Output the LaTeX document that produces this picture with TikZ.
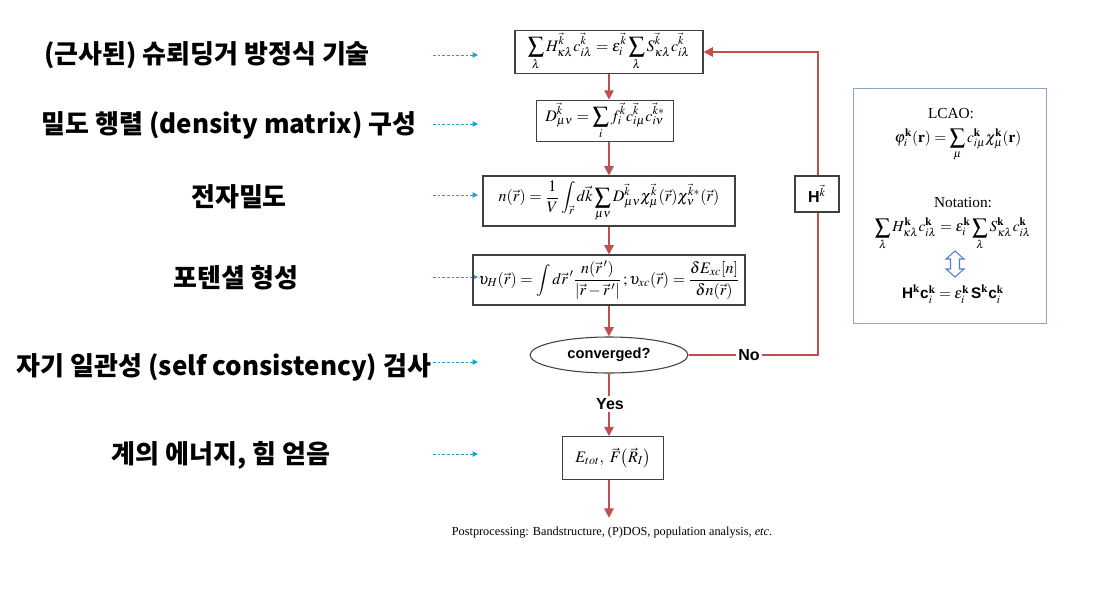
\documentclass[tikz,border=0pt]{standalone}
\usepackage{mathptmx}
\usepackage{fontspec}
\setmainfont{Liberation Serif}
\setsansfont{Liberation Sans}
\newfontfamily\kofont{Noto Sans CJK KR}
\usetikzlibrary{arrows.meta,positioning,shapes.geometric}
\definecolor{flowred}{RGB}{192,80,77}
\definecolor{hintblue}{RGB}{30,160,210}
\definecolor{framegray}{RGB}{140,165,200}
\definecolor{arrowblue}{RGB}{80,125,205}
\newcommand{\eqfont}{\fontsize{12}{14}\selectfont}
\newcommand{\kvec}{\vec{k}}
\newcommand{\rvec}{\vec{r}}
\newcommand{\bsf}[1]{\textsf{\bfseries #1}}

\begin{document}
\begin{tikzpicture}[
    x=0.75pt, y=-0.75pt,
    eqbox/.style={rectangle, draw=black!75, line width=0.8pt, inner sep=2pt, font=\eqfont},
    stagelabel/.style={font=\kofont\bfseries\fontsize{19.5}{22}\selectfont},
    answer/.style={font=\sffamily\bfseries\fontsize{12}{14}\selectfont, fill=white, inner sep=2pt},
    flow/.style={-{Triangle[length=7pt,width=7pt]}, draw=flowred, line width=1.4pt},
    hint/.style={-{Triangle[length=4pt,width=4pt]}, draw=hintblue, dash pattern=on 2pt off 1.5pt, line width=0.7pt},
    notebox/.style={font=\fontsize{11.5}{13}\selectfont, inner sep=1pt}
]
\useasboundingbox (0,0) rectangle (1096,590);

% Stage labels
\node[stagelabel] (lab1) at (207,55) {(근사된) 슈뢰딩거 방정식 기술};
\node[stagelabel] (lab2) at (229,125) {밀도 행렬 (density matrix) 구성};
\node[stagelabel] (lab3) at (239,197) {전자밀도};
\node[stagelabel] (lab4) at (236,278) {포텐셜 형성};
\node[stagelabel] (lab5) at (224,367) {자기 일관성 (self consistency) 검사};
\node[stagelabel] (lab6) at (221,455) {계의 에너지, 힘 얻음};

% Hint arrows
\foreach \y/\n in {55/1,124/2,195/3,277/4,362/5,454/6} {
    \coordinate (hs\n) at (433,\y);
    \coordinate (he\n) at (478,\y);
    \draw[hint] (hs\n) -- (he\n);
}

% Equation boxes
\node[eqbox, minimum width=141pt, minimum height=31.5pt] (schr) at (609,52)
    {$\displaystyle\sum_{\lambda} H^{\kvec}_{\kappa\lambda} c^{\kvec}_{i\lambda} = \varepsilon^{\kvec}_{i} \sum_{\lambda} S^{\kvec}_{\kappa\lambda} c^{\kvec}_{i\lambda}$};
\node[eqbox, minimum width=103pt, minimum height=25.5pt] (dens) at (605,121)
    {$\displaystyle D^{\kvec}_{\mu\nu} = \sum_{i} f^{\kvec}_{i} c^{\kvec}_{i\mu} c^{\kvec *}_{i\nu}$};
\node[eqbox, minimum width=189pt, minimum height=37.5pt] (elec) at (609,201)
    {$\displaystyle n(\rvec) = \frac{1}{V}\int_{\rvec} d\kvec \sum_{\mu\nu} D^{\kvec}_{\mu\nu}\chi^{\kvec}_{\mu}(\rvec)\chi^{\kvec *}_{\nu}(\rvec)$};
\node[eqbox, minimum width=204pt, minimum height=37.5pt] (pot) at (609,280)
    {$\displaystyle \upsilon_{H}(\rvec) = \int d\rvec\,' \frac{n(\rvec\,')}{|\rvec - \rvec\,'|}\,;\upsilon_{xc}(\rvec) = \frac{\delta E_{xc}[n]}{\delta n(\rvec)}$};
\node[ellipse, draw=black!75, line width=0.8pt, minimum width=118.5pt, minimum height=27pt,
      font=\sffamily\bfseries\fontsize{11}{13}\selectfont] (conv) at (609,355) {converged?};
\node[eqbox, minimum width=76pt, minimum height=32pt] (force) at (613,458)
    {$E_{tot},\ \vec{F}\bigl(\vec{R}_{I}\bigr)$};
\node[font=\fontsize{9.2}{11}\selectfont, inner sep=7pt] (post) at (612,533)
    {Postprocessing: Bandstructure, (P)DOS, population analysis, \textit{etc}.};

% Flow
\draw[flow] (schr.south -| conv.north) -- (dens.north -| conv.north);
\draw[flow] (dens.south -| conv.north) -- (elec.north -| conv.north);
\draw[flow] (elec.south -| conv.north) -- (pot.north -| conv.north);
\draw[flow] (pot.south -| conv.north) -- (conv.north);
\draw[flow] (conv.south) -- (force.north -| conv.south);
\draw[flow] (force.south -| conv.south) -- (post.north -| conv.south);

% Feedback loop
\coordinate (turn) at (818,355);
\draw[flow] (conv.east) -- (turn) -- (turn |- schr.east) -- (schr.east);
\node[answer] (no) at (749,355) {No};
\node[answer] (yes) at (610,404) {Yes};
\node[rectangle, draw=black!75, line width=0.8pt, fill=white, minimum width=33pt, minimum height=27pt,
      font=\eqfont] (hk) at (817,194) {$\bsf{H}^{\kvec}$};

% Notation panel
\node[rectangle, draw=framegray, line width=0.9pt, minimum width=145pt, minimum height=176pt] (panel) at (950,206) {};
\node[notebox] (lcao) at (951,114) {LCAO:};
\node[notebox] (phi) at (958,145)
    {$\displaystyle \varphi^{\mathbf{k}}_{i}(\mathbf{r}) = \sum_{\mu} c^{\mathbf{k}}_{i\mu}\chi^{\mathbf{k}}_{\mu}(\mathbf{r})$};
\node[notebox] (notation) at (963,203) {Notation:};
\node[notebox] (sumeq) at (953,234)
    {$\displaystyle \sum_{\lambda} H^{\mathbf{k}}_{\kappa\lambda} c^{\mathbf{k}}_{i\lambda} = \varepsilon^{\mathbf{k}}_{i} \sum_{\lambda} S^{\mathbf{k}}_{\kappa\lambda} c^{\mathbf{k}}_{i\lambda}$};
% hollow up-down arrow
\draw[arrowblue, line width=0.8pt, line join=miter]
    (955,251) -- (964,259) -- (959.5,259) -- (959.5,269) -- (964,269) -- (955,277)
    -- (946,269) -- (950.5,269) -- (950.5,259) -- (946,259) -- cycle;
\node[notebox] (mateq) at (953,294)
    {$\bsf{H}^{\mathbf{k}}\bsf{c}^{\mathbf{k}}_{i} = \varepsilon^{\mathbf{k}}_{i}\,\bsf{S}^{\mathbf{k}}\bsf{c}^{\mathbf{k}}_{i}$};

\end{tikzpicture}
\end{document}
